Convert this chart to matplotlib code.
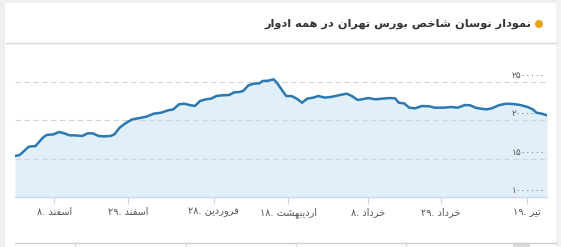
import matplotlib
matplotlib.use("Agg")
import matplotlib.pyplot as plt
from matplotlib.lines import Line2D
from matplotlib.patches import Rectangle, Ellipse

# trading-day position and index value
days = [0, 0.9, 2.6, 3.9, 5.3, 6.0, 7.3, 8.4, 9.4, 10.4, 11.4, 12.8, 13.8, 14.8,
        15.9, 16.9, 18.2, 18.9, 19.9, 21.0, 22.3, 23.7, 25.0, 26.4, 27.8, 29.1,
        30.1, 31.2, 32.2, 33.2, 34.2, 35.2, 36.3, 37.3, 38.3, 39.3, 40.7, 41.7,
        42.7, 43.4, 44.4, 45.4, 46.5, 47.1, 48.2, 49.2, 49.9, 50.9, 51.6, 52.6,
        53.6, 54.6, 55.6, 56.7, 57.7, 59.0, 60.4, 61.8, 63.1, 64.1, 65.2, 65.9,
        67.2, 68.6, 69.9, 71.3, 72.3, 73.0, 74.0, 75.0, 76.1, 77.4, 78.8, 79.8,
        81.5, 82.9, 84.2, 85.6, 86.6, 87.6, 88.6, 89.7, 90.7, 92.0, 93.4, 94.8,
        96.1, 97.5, 98.5, 99.2, 100.2, 101.2]
index_values = [1535000, 1548000, 1656000, 1665000, 1774000, 1809000, 1817000,
                1848000, 1830000, 1804000, 1804000, 1796000, 1830000, 1830000,
                1796000, 1791000, 1796000, 1817000, 1904000, 1961000, 2013000,
                2030000, 2048000, 2087000, 2100000, 2130000, 2143000, 2209000,
                2217000, 2200000, 2187000, 2252000, 2274000, 2283000, 2317000,
                2326000, 2330000, 2365000, 2370000, 2383000, 2456000, 2478000,
                2483000, 2513000, 2517000, 2535000, 2483000, 2383000, 2317000,
                2317000, 2283000, 2230000, 2283000, 2296000, 2317000, 2296000,
                2309000, 2330000, 2348000, 2317000, 2265000, 2274000, 2291000,
                2274000, 2283000, 2291000, 2287000, 2230000, 2222000, 2165000,
                2157000, 2187000, 2183000, 2165000, 2165000, 2174000, 2165000,
                2200000, 2196000, 2165000, 2152000, 2143000, 2157000, 2196000,
                2217000, 2213000, 2200000, 2174000, 2143000, 2100000, 2087000,
                2065000]

tick_days = [7.5, 21.5, 37.8, 52.0, 67.2, 81.0, 97.4]
tick_months = ['اسفند', 'اسفند', 'فروردین', 'اردیبهشت', 'خرداد', 'خرداد', 'تیر']
tick_daynums = ['8', '29', '28', '18', '8', '29', '19']
y_ticks = [1000000, 1500000, 2000000, 2500000]
title = 'نمودار نوسان شاخص بورس تهران در همه ادوار'

# --- minimal Persian shaping (matplotlib has no bidi / joining support) ---
FORMS = {
    'ن': (0xFEE5, 0xFEE6, 0xFEE7, 0xFEE8), 'م': (0xFEE1, 0xFEE2, 0xFEE3, 0xFEE4),
    'س': (0xFEB1, 0xFEB2, 0xFEB3, 0xFEB4), 'ش': (0xFEB5, 0xFEB6, 0xFEB7, 0xFEB8),
    'خ': (0xFEA5, 0xFEA6, 0xFEA7, 0xFEA8), 'ص': (0xFEB9, 0xFEBA, 0xFEBB, 0xFEBC),
    'ب': (0xFE8F, 0xFE90, 0xFE91, 0xFE92), 'ت': (0xFE95, 0xFE96, 0xFE97, 0xFE98),
    'ه': (0xFEE9, 0xFEEA, 0xFEEB, 0xFEEC), 'ف': (0xFED1, 0xFED2, 0xFED3, 0xFED4),
    'ی': (0xFEEF, 0xFEF0, 0xFEF3, 0xFEF4),
    'و': (0xFEED, 0xFEEE), 'د': (0xFEA9, 0xFEAA), 'ا': (0xFE8D, 0xFE8E),
    'ر': (0xFEAD, 0xFEAE),
}


def shape_word(word):
    out = []
    for i, ch in enumerate(word):
        f = FORMS.get(ch)
        if f is None:
            out.append(ch)
            continue
        prev = word[i - 1] if i > 0 else None
        nxt = word[i + 1] if i + 1 < len(word) else None
        join_prev = prev in FORMS and len(FORMS[prev]) == 4
        join_next = len(f) == 4 and nxt in FORMS
        if join_prev and join_next:
            cp = f[3]
        elif join_prev:
            cp = f[1]
        elif join_next:
            cp = f[2]
        else:
            cp = f[0]
        out.append(chr(cp))
    return ''.join(out)[::-1]


def rtl(text):
    return ' '.join(shape_word(w) for w in text.split(' ')[::-1])


def fa_digits(s):
    return s.translate(str.maketrans('0123456789', '۰۱۲۳۴۵۶۷۸۹'))


tick_labels = [fa_digits(d) + '. ' + rtl(m) for m, d in zip(tick_months, tick_daynums)]

W, H = 561, 247
fig = plt.figure(figsize=(W / 100, H / 100), dpi=100)
fig.patch.set_facecolor('white')


def px(x0, y0, x1, y1):
    return [x0 / W, 1 - y1 / H, (x1 - x0) / W, (y1 - y0) / H]


# page frame bits
fig.add_artist(Rectangle((0, 0), 5 / W, 1, transform=fig.transFigure, color='#efefef', lw=0))
fig.add_artist(Rectangle((0, 1 - 3 / H), 1, 3 / H, transform=fig.transFigure, color='#efefef', lw=0))
fig.add_artist(Rectangle((556 / W, 0), 5 / W, 1, transform=fig.transFigure, color='#f2f2f2', lw=0))
fig.add_artist(Line2D([6 / W, 556 / W], [1 - 43 / H] * 2, transform=fig.transFigure, color='#d6d6d6', lw=1))

# header
fig.text(531 / W, 1 - 24 / H, rtl(title), ha='right', va='center', fontsize=8.2,
         fontweight='bold', color='#333333', family='DejaVu Sans')
fig.add_artist(Ellipse((539 / W, 1 - 24 / H), 8 / W, 8 / H, transform=fig.transFigure,
                       color='#e8a317', lw=0))

# chart
ax = fig.add_axes(px(15, 59, 547, 197))
ax.fill_between(days, index_values, 1000000, color='#e1eff9', lw=0, zorder=1)
ax.plot(days, index_values, color='#2c78b0', lw=1.8, solid_joinstyle='round', zorder=3)
ax.set_xlim(0, days[-1])
ax.set_ylim(1000000, 2800000)

for v in y_ticks[1:]:
    ax.axhline(v, color='#d4d4d4', lw=0.8, ls=(0, (5, 3)), zorder=2)
for v in y_ticks:
    ax.text(0.997, v + 25000, fa_digits(str(v)), transform=ax.get_yaxis_transform(),
            ha='right', va='bottom', fontsize=6.5, color='#555555', zorder=4)

ax.set_yticks([])
ax.set_xticks(tick_days)
ax.set_xticklabels(tick_labels, fontsize=7, color='#555555')
ax.tick_params(axis='x', length=5, width=0.8, color='#ccd6eb', pad=2)
for side in ['top', 'left', 'right']:
    ax.spines[side].set_visible(False)
ax.spines['bottom'].set_color('#ccd6eb')
ax.spines['bottom'].set_linewidth(1)
ax.set_facecolor('none')

# bottom table edge
fig.add_artist(Line2D([15 / W, 556 / W], [1 - 243 / H] * 2, transform=fig.transFigure, color='#cccccc', lw=1))
for xs in [75, 186, 296, 406]:
    fig.add_artist(Line2D([xs / W] * 2, [0, 4 / H], transform=fig.transFigure, color='#dddddd', lw=1))
fig.add_artist(Rectangle((513 / W, 0), 17 / W, 4 / H, transform=fig.transFigure, color='#d9d9d9', lw=0))

fig.savefig('out.png', dpi=100)
